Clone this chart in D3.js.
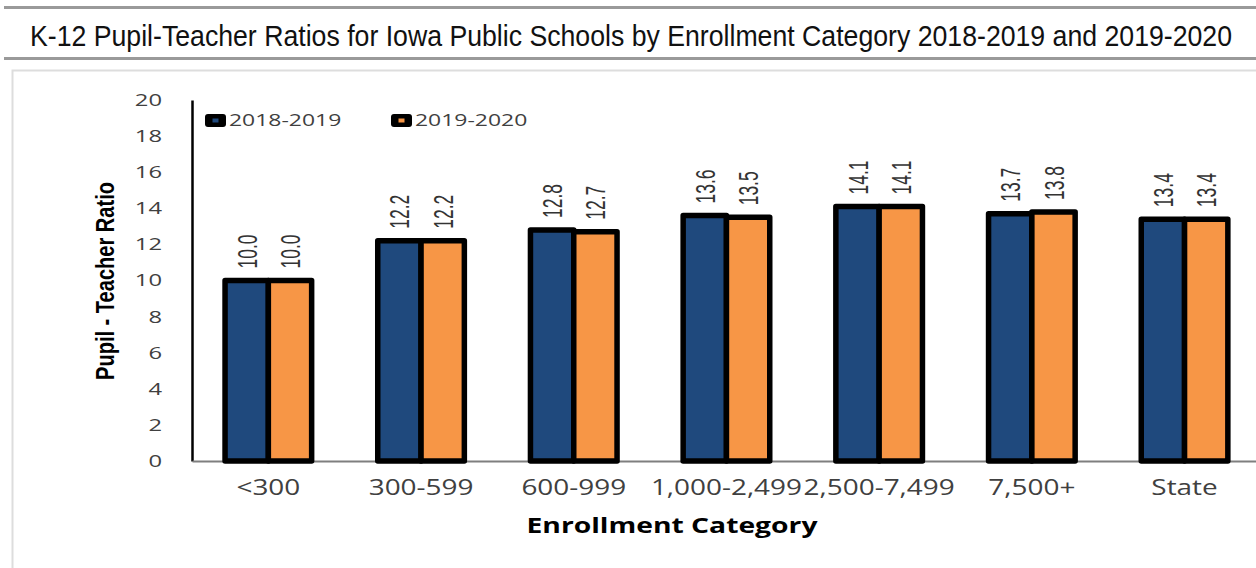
<!DOCTYPE html>
<html>
<head>
    <meta charset="utf-8">
    <title>K-12 Pupil-Teacher Ratios</title>
    <script src="https://d3js.org/d3.v7.min.js"></script>
    <style>
        html, body {
            margin: 0;
            background: #fff;
            overflow: hidden;
        }
        text { font-family: "Open Sans", "DejaVu Sans", sans-serif; }
    </style>
</head>
<body>
    <svg id="svg"></svg>
    <script>
        const categories = ["<300", "300-599", "600-999", "1,000-2,499", "2,500-7,499", "7,500+", "State"];
        const seriesNames = ["2018-2019", "2019-2020"];
        const values2018 = [10.0, 12.2, 12.8, 13.6, 14.1, 13.7, 13.4];
        const values2019 = [10.0, 12.2, 12.7, 13.5, 14.1, 13.8, 13.4];
        const yTicks = [0, 2, 4, 6, 8, 10, 12, 14, 16, 18, 20];
        const colors = ["#1F497D", "#F79646"];

        const width = 1256, height = 568;

        const svg = d3.select("#svg")
            .attr("width", width)
            .attr("height", height);

        // title bar
        svg.append("line").attr("x1", 4).attr("x2", width).attr("y1", 7.5).attr("y2", 7.5)
            .attr("stroke", "#9a9a9a").attr("stroke-width", 3);
        svg.append("line").attr("x1", 4).attr("x2", width).attr("y1", 58.5).attr("y2", 58.5)
            .attr("stroke", "#9a9a9a").attr("stroke-width", 3);
        svg.append("text")
            .attr("transform", "translate(631,46) scale(1,1.15)")
            .attr("text-anchor", "middle")
            .style("font-family", "'Liberation Sans', Arial, sans-serif")
            .style("font-size", "25px")
            .attr("textLength", 1202)
            .attr("lengthAdjust", "spacingAndGlyphs")
            .attr("fill", "#111")
            .text("K-12 Pupil-Teacher Ratios for Iowa Public Schools by Enrollment Category 2018-2019 and 2019-2020");

        // panel
        svg.append("rect").attr("x", 12.5).attr("y", 70.5).attr("width", width).attr("height", height)
            .attr("fill", "none").attr("stroke", "#dddddd").attr("stroke-width", 2);

        const x0 = d3.scaleBand().domain(categories).range([192, 192 + 7 * 152.7]);
        const x1 = d3.scaleBand().domain(seriesNames).range([-43.3, 43.3]);
        const y = d3.scaleLinear().domain([0, 20]).range([461, 100]);

        // y axis
        const yAxis = svg.append("g")
            .attr("transform", "translate(192,0)")
            .call(d3.axisLeft(y).tickValues(yTicks).tickSize(0).tickFormat(d3.format("d")));
        yAxis.select(".domain").attr("stroke", "#000").attr("stroke-width", 2.5);
        yAxis.selectAll("text")
            .attr("x", 0)
            .attr("transform", "translate(-30,0) scale(1.4,1)")
            .style("font-size", "17px")
            .attr("fill", "#404040");

        // x axis
        const xAxis = svg.append("g")
            .attr("transform", "translate(0,461)")
            .call(d3.axisBottom(x0).tickSize(0));
        xAxis.select(".domain").attr("stroke", "#7f7f7f").attr("stroke-width", 2);
        xAxis.selectAll("text")
            .attr("y", 0).attr("dy", 0)
            .attr("transform", "translate(0,34) scale(1.33,1)")
            .style("font-size", "21px")
            .attr("fill", "#404040");

        const rows = categories.map((c, i) => ({
            cat: c,
            vals: [
                { name: seriesNames[0], v: values2018[i], color: colors[0] },
                { name: seriesNames[1], v: values2019[i], color: colors[1] }
            ]
        }));

        const groups = svg.append("g").selectAll("g")
            .data(rows)
            .join("g")
            .attr("transform", d => `translate(${x0(d.cat) + x0.bandwidth() / 2},0)`);

        groups.selectAll("rect")
            .data(d => d.vals)
            .join("rect")
            .attr("x", d => x1(d.name))
            .attr("width", x1.bandwidth())
            .attr("y", d => y(d.v))
            .attr("height", d => y(0) - y(d.v))
            .attr("fill", d => d.color)
            .attr("stroke", "#000")
            .attr("stroke-width", 5.5)
            .attr("stroke-linejoin", "round");

        groups.selectAll("text.val")
            .data(d => d.vals)
            .join("text")
            .attr("class", "val")
            .attr("transform", d => `translate(${x1(d.name) + x1.bandwidth() / 2},${y(d.v) - 12}) rotate(-90)`)
            .attr("dy", "0.36em")
            .attr("text-anchor", "start")
            .style("font-family", "'Liberation Sans', Arial, sans-serif")
            .style("font-size", "28px")
            .attr("textLength", 34)
            .attr("lengthAdjust", "spacingAndGlyphs")
            .attr("fill", "#333")
            .text(d => d.v.toFixed(1));

        // legend
        const legendX = [205, 391];
        const legend = svg.append("g").selectAll("g")
            .data(seriesNames)
            .join("g")
            .attr("transform", (d, i) => `translate(${legendX[i]},114)`);
        legend.append("rect")
            .attr("width", 21).attr("height", 13).attr("rx", 3)
            .attr("fill", "#000");
        legend.append("rect")
            .attr("x", 7.5).attr("y", 4.5).attr("width", 6).attr("height", 4)
            .attr("fill", (d, i) => colors[i]);
        legend.append("text")
            .attr("transform", "translate(24,12) scale(1.35,1)")
            .style("font-size", "17px")
            .attr("fill", "#404040")
            .text(d => d);

        // axis titles
        svg.append("text")
            .attr("transform", "translate(114,281) rotate(-90)")
            .attr("text-anchor", "middle")
            .style("font-family", "'Liberation Sans', Arial, sans-serif")
            .style("font-size", "25px")
            .style("font-weight", "bold")
            .attr("textLength", 198)
            .attr("lengthAdjust", "spacingAndGlyphs")
            .attr("fill", "#000")
            .text("Pupil - Teacher Ratio");

        svg.append("text")
            .attr("x", 672).attr("y", 533)
            .attr("text-anchor", "middle")
            .style("font-size", "22px")
            .style("font-weight", "bold")
            .attr("textLength", 291)
            .attr("lengthAdjust", "spacingAndGlyphs")
            .attr("fill", "#000")
            .text("Enrollment Category");
    </script>
</body>
</html>
